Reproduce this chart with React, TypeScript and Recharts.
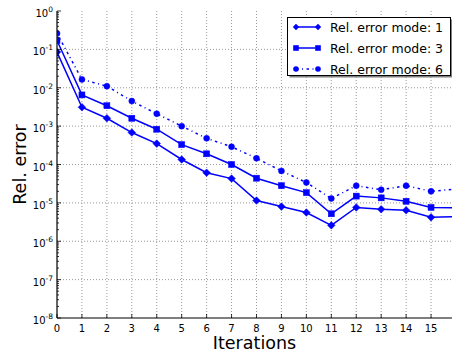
import React from "react";
import { LineChart, Line, XAxis, YAxis, ReferenceLine } from "recharts";

const iterations = [0, 1, 2, 3, 4, 5, 6, 7, 8, 9, 10, 11, 12, 13, 14, 15, 16];
const mode1 = [0.085, 3.1e-3, 1.6e-3, 6.8e-4, 3.5e-4, 1.35e-4, 6.1e-5, 4.3e-5, 1.15e-5, 8e-6, 5.6e-6, 2.6e-6, 7.6e-6, 6.8e-6, 6.4e-6, 4.2e-6, 4.4e-6];
const mode3 = [0.17, 6.5e-3, 3.4e-3, 1.6e-3, 8.3e-4, 3.3e-4, 1.9e-4, 1.0e-4, 4.4e-5, 2.8e-5, 1.85e-5, 5.2e-6, 1.5e-5, 1.35e-5, 1.1e-5, 7.6e-6, 7.4e-6];
const mode6 = [0.26, 1.65e-2, 1.1e-2, 4.5e-3, 2.1e-3, 1.0e-3, 4.8e-4, 2.9e-4, 1.45e-4, 6.8e-5, 3.4e-5, 1.3e-5, 2.8e-5, 2.2e-5, 2.8e-5, 2.0e-5, 2.3e-5];
const seriesNames = ["Rel. error mode: 1", "Rel. error mode: 3", "Rel. error mode: 6"];
const xTicks = [0, 1, 2, 3, 4, 5, 6, 7, 8, 9, 10, 11, 12, 13, 14, 15];
const yExponents = [-8, -7, -6, -5, -4, -3, -2, -1, 0];
const xLabel = "Iterations";
const yLabel = "Rel. error";

const BLUE = "#0000ff";
const FONT = "DejaVu Sans";

const rows = iterations.map((it, i) => ({ it, m1: mode1[i], m3: mode3[i], m6: mode6[i] }));
const yMajor = yExponents.map((e) => Math.pow(10, e));
const yMinor: number[] = [];
yExponents.slice(0, -1).forEach((e) => {
  for (let k = 2; k <= 9; k++) yMinor.push(k * Math.pow(10, e));
});
const yTicks = [...yMajor, ...yMinor].sort((a, b) => a - b);

const isMajor = (v: number) => {
  const l = Math.log10(v);
  return Math.abs(l - Math.round(l)) < 1e-9;
};

const YTick = (props: any) => {
  const { x, y, payload } = props;
  const v = payload.value;
  if (!isMajor(v)) {
    return <line x1={x} x2={x + 2} y1={y} y2={y} stroke="#000" strokeWidth={0.8} />;
  }
  const e = Math.round(Math.log10(v));
  const expStr = e < 0 ? "-" + Math.abs(e) : String(e);
  return (
    <g>
      <line x1={x} x2={x + 4} y1={y} y2={y} stroke="#000" strokeWidth={0.8} />
      <text x={x - 4} y={y + 6} textAnchor="end" fontFamily={FONT} fontSize={10} fill="#000">
        <tspan>10</tspan>
        <tspan dy={-5} fontSize={7.5}>{expStr}</tspan>
      </text>
    </g>
  );
};

const XTick = (props: any) => {
  const { x, y, payload } = props;
  return (
    <g>
      <line x1={x} x2={x} y1={y} y2={y - 4} stroke="#000" strokeWidth={0.8} />
      <text x={x} y={y + 14} textAnchor="middle" fontFamily={FONT} fontSize={10} fill="#000">
        {payload.value}
      </text>
    </g>
  );
};

const diamondPts = (cx: number, cy: number, r: number) =>
  `${cx},${cy - r} ${cx + r},${cy} ${cx},${cy + r} ${cx - r},${cy}`;

const DiamondDot = (props: any) => {
  const { cx, cy, index } = props;
  if (cx == null || cy == null) return <g key={`d${index}`} />;
  return <polygon key={`d${index}`} points={diamondPts(cx, cy, 3.8)} fill={BLUE} stroke={BLUE} strokeWidth={0.5} />;
};
const SquareDot = (props: any) => {
  const { cx, cy, index } = props;
  if (cx == null || cy == null) return <g key={`s${index}`} />;
  return <rect key={`s${index}`} x={cx - 3} y={cy - 3} width={6} height={6} fill={BLUE} stroke={BLUE} strokeWidth={0.5} />;
};
const CircleDot = (props: any) => {
  const { cx, cy, index } = props;
  if (cx == null || cy == null) return <g key={`c${index}`} />;
  return <circle key={`c${index}`} cx={cx} cy={cy} r={3} fill={BLUE} stroke={BLUE} strokeWidth={0.5} />;
};

const DASHDOT = "2.5 3.5 1 3.5";

const Legend = () => {
  const bx = 287.5, by = 17.5, bw = 163, bh = 58;
  const rowsY = [27, 48, 69];
  const lx1 = 296, lx2 = 318;
  return (
    <svg width={452} height={356} style={{ position: "absolute", left: 0, top: 0, pointerEvents: "none" }}>
      <rect x={bx + 2} y={by + 2} width={bw} height={bh} fill="#808080" />
      <rect x={bx} y={by} width={bw} height={bh} fill="#fff" stroke="#000" strokeWidth={1} />
      {seriesNames.map((name, i) => {
        const y = rowsY[i];
        return (
          <g key={name}>
            <line x1={lx1} x2={lx2} y1={y} y2={y} stroke={BLUE} strokeWidth={1.5} strokeDasharray={i === 2 ? DASHDOT : undefined} />
            {i === 0 && [lx1, lx2].map((cx) => <polygon key={cx} points={diamondPts(cx, y, 3.2)} fill={BLUE} />)}
            {i === 1 && [lx1, lx2].map((cx) => <rect key={cx} x={cx - 2.8} y={y - 2.8} width={5.6} height={5.6} fill={BLUE} />)}
            {i === 2 && [lx1, lx2].map((cx) => <circle key={cx} cx={cx} cy={y} r={2.8} fill={BLUE} />)}
            <text x={330} y={y + 4.5} fontFamily={FONT} fontSize={12.5} fill="#000">{name}</text>
          </g>
        );
      })}
    </svg>
  );
};

const GRID = { stroke: "#999", strokeDasharray: "1 2", strokeWidth: 1 };

export default function App() {
  return (
    <div style={{ position: "absolute", left: 0, top: 0, width: 452, height: 356, background: "#fff" }}>
      <LineChart width={452} height={356} data={rows} margin={{ top: 11, right: 0, bottom: 0, left: 0 }}>
        <XAxis
          dataKey="it"
          type="number"
          domain={[0, 15.84]}
          allowDataOverflow
          ticks={xTicks}
          interval={0}
          height={38}
          tickSize={0}
          tickMargin={0}
          tickLine={false}
          tick={<XTick />}
          axisLine={{ stroke: "#000", strokeWidth: 1.2 }}
          label={{
            content: (p: any) => {
              const vb = p.viewBox;
              return (
                <text x={vb.x + vb.width / 2} y={vb.y + 31} textAnchor="middle" fontFamily={FONT} fontSize={17.5} fill="#000">
                  {xLabel}
                </text>
              );
            },
          }}
        />
        <XAxis
          xAxisId="top"
          dataKey="it"
          type="number"
          orientation="top"
          domain={[0, 15.84]}
          allowDataOverflow
          ticks={xTicks}
          interval={0}
          height={0}
          mirror
          tickSize={4}
          tick={false}
          tickLine={{ stroke: "#000", strokeWidth: 0.8 }}
          axisLine={{ stroke: "#000", strokeWidth: 1.2 }}
        />
        <YAxis
          type="number"
          scale="log"
          domain={[1e-8, 1]}
          allowDataOverflow
          ticks={yTicks}
          interval={0}
          width={57}
          tickSize={0}
          tickMargin={0}
          tickLine={false}
          tick={<YTick />}
          axisLine={{ stroke: "#000", strokeWidth: 1.2 }}
          label={{
            content: (p: any) => {
              const vb = p.viewBox;
              const cy = vb.y + vb.height / 2;
              return (
                <text x={25.5} y={cy} transform={`rotate(-90, 25.5, ${cy})`} textAnchor="middle" fontFamily={FONT} fontSize={17.5} fill="#000">
                  {yLabel}
                </text>
              );
            },
          }}
        />
        {yMajor.slice(1, -1).map((v) => (
          <ReferenceLine key={`gy${v}`} y={v} {...GRID} />
        ))}
        {xTicks.slice(1).map((v) => (
          <ReferenceLine key={`gx${v}`} x={v} {...GRID} />
        ))}
        <Line dataKey="m1" stroke={BLUE} strokeWidth={1.5} dot={DiamondDot} isAnimationActive={false} />
        <Line dataKey="m3" stroke={BLUE} strokeWidth={1.5} dot={SquareDot} isAnimationActive={false} />
        <Line dataKey="m6" stroke={BLUE} strokeWidth={1.5} strokeDasharray={DASHDOT} dot={CircleDot} isAnimationActive={false} />
      </LineChart>
      <Legend />
    </div>
  );
}
